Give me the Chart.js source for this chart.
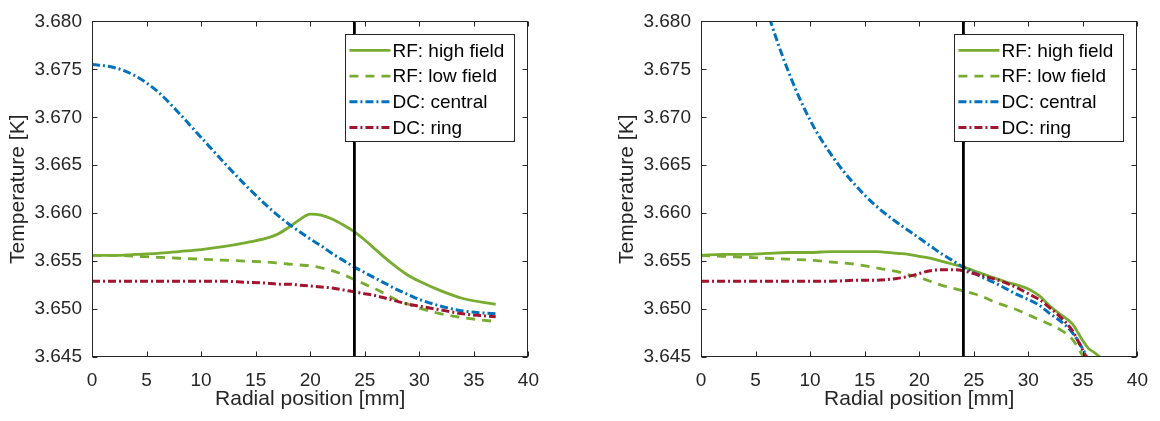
<!DOCTYPE html>
<html>
<head>
<meta charset="utf-8">
<script src="https://cdn.jsdelivr.net/npm/chart.js@4/dist/chart.umd.min.js"></script>
<style>
  html, body { margin: 0; padding: 0; background: #fff; }
  body { width: 1160px; height: 421px; position: relative; overflow: hidden; }
  canvas { position: absolute; top: 0; }
  #esquerda { left: 0; }
  #direita { left: 609px; }
</style>
</head>
<body>
<canvas id="esquerda" width="551" height="421"></canvas>
<canvas id="direita" width="551" height="421"></canvas>
<script>
// Eixos e legenda
const xTicks = [0, 5, 10, 15, 20, 25, 30, 35, 40];
const yTicks = [3.645, 3.650, 3.655, 3.660, 3.665, 3.670, 3.675, 3.680];
const nomes = ['RF: high field', 'RF: low field', 'DC: central', 'DC: ring'];
const posParede = 24.05;

// Painel esquerdo
const xEsq = [0, 2, 4, 6, 8, 10, 12, 14, 16, 17, 18, 19, 20, 21, 22, 23, 24, 25, 26, 27, 28, 29, 30, 32, 34, 37];
const highEsq = [3.6556, 3.6556, 3.6557, 3.6558, 3.6560, 3.6562, 3.6565, 3.6569, 3.6574, 3.6578, 3.6585, 3.6593, 3.6599, 3.6598, 3.6594, 3.6588, 3.6581, 3.6572, 3.6562, 3.6552, 3.6543, 3.6535, 3.6529, 3.6519, 3.6511, 3.6505];
const lowEsq = [3.6556, 3.6556, 3.6555, 3.6554, 3.6553, 3.6552, 3.6551, 3.6550, 3.6549, 3.6548, 3.6547, 3.6546, 3.6545, 3.6543, 3.6540, 3.6536, 3.6531, 3.6526, 3.6521, 3.6515, 3.6509, 3.6505, 3.6501, 3.6495, 3.6491, 3.6487];
const centralEsq = [3.6755, 3.6752, 3.6743, 3.6727, 3.6704, 3.6679, 3.6654, 3.6630, 3.6608, 3.6598, 3.6589, 3.6581, 3.6573, 3.6566, 3.6558, 3.6551, 3.6544, 3.6538, 3.6532, 3.6526, 3.6520, 3.6515, 3.6510, 3.6503, 3.6498, 3.6495];
const ringEsq = [3.6529, 3.6529, 3.6529, 3.6529, 3.6529, 3.6529, 3.6529, 3.6528, 3.6527, 3.6526, 3.6526, 3.6525, 3.6524, 3.6523, 3.6522, 3.6520, 3.6518, 3.6516, 3.6514, 3.6511, 3.6508, 3.6505, 3.6503, 3.6499, 3.6495, 3.6492];

// Painel direito
const xDir = [0, 2, 4, 6, 8, 10, 12, 14, 16, 18, 19, 20, 21, 22, 23, 24, 25, 26, 27, 28, 29, 30, 31, 32, 33, 34, 35, 35.5, 36, 37];
const highDir = [3.6556, 3.6557, 3.6557, 3.6558, 3.6559, 3.6559, 3.6560, 3.6560, 3.6560, 3.6558, 3.6557, 3.6555, 3.6553, 3.6550, 3.6547, 3.6544, 3.6540, 3.6536, 3.6532, 3.6528, 3.6525, 3.6521, 3.6514, 3.6503, 3.6494, 3.6485, 3.6467, 3.6459, 3.6455, 3.6446];
const lowDir = [3.6556, 3.6555, 3.6554, 3.6553, 3.6552, 3.6551, 3.6549, 3.6547, 3.6543, 3.6539, 3.6536, 3.6533, 3.6529, 3.6525, 3.6522, 3.6519, 3.6516, 3.6512, 3.6507, 3.6503, 3.6499, 3.6494, 3.6489, 3.6484, 3.6478, 3.6469, 3.6451, 3.6440, null, null];
const centralDir = [null, null, 3.6900, 3.6814, 3.6748, 3.6697, 3.6660, 3.6631, 3.6608, 3.6590, 3.6582, 3.6574, 3.6566, 3.6558, 3.6551, 3.6544, 3.6538, 3.6532, 3.6527, 3.6521, 3.6515, 3.6510, 3.6504, 3.6495, 3.6487, 3.6476, 3.6458, 3.6447, 3.6438, null];
const ringDir = [3.6529, 3.6529, 3.6529, 3.6529, 3.6529, 3.6529, 3.6529, 3.6530, 3.6530, 3.6532, 3.6534, 3.6537, 3.6540, 3.6541, 3.6541, 3.6540, 3.6537, 3.6534, 3.6531, 3.6527, 3.6522, 3.6516, 3.6510, 3.6501, 3.6491, 3.6478, 3.6457, 3.6446, 3.6438, null];

const FONTE = "'Liberation Sans', Arial, Helvetica, sans-serif";
const COR_TEXTO = '#262626';
Chart.defaults.font.family = FONTE;
Chart.defaults.color = COR_TEXTO;

const estilos = [
  { cor: '#77AC30', largura: 2.8, dash: [], ordem: 4 },
  { cor: '#77AC30', largura: 2.8, dash: [9, 7], ordem: 3 },
  { cor: '#0072BD', largura: 3, dash: [8, 3, 2, 3], ordem: 2 },
  { cor: '#A2142F', largura: 3, dash: [8, 3, 2, 3], ordem: 1 }
];

// Moldura com ticks para dentro (estilo MATLAB)
const moldura = {
  id: 'moldura',
  afterDraw(chart) {
    const { ctx, chartArea: a, scales: { x, y } } = chart;
    const L = Math.round(a.left) + 0.5, R = Math.round(a.right) - 0.5;
    const T = Math.round(a.top) + 0.5, B = Math.round(a.bottom) - 0.5;
    ctx.save();
    ctx.strokeStyle = COR_TEXTO;
    ctx.lineWidth = 1;
    ctx.setLineDash([]);
    ctx.strokeRect(L, T, R - L, B - T);
    ctx.beginPath();
    x.ticks.forEach(t => {
      const px = Math.round(x.getPixelForValue(t.value)) + 0.5;
      ctx.moveTo(px, B); ctx.lineTo(px, B - 5);
      ctx.moveTo(px, T); ctx.lineTo(px, T + 5);
    });
    y.ticks.forEach(t => {
      const py = Math.round(y.getPixelForValue(t.value)) + 0.5;
      ctx.moveTo(L, py); ctx.lineTo(L + 5, py);
      ctx.moveTo(R, py); ctx.lineTo(R - 5, py);
    });
    ctx.stroke();
    ctx.restore();
  }
};

// Legenda desenhada dentro da área do gráfico
const legenda = {
  id: 'legenda',
  afterDatasetsDraw(chart) {
    const { ctx, chartArea: a } = chart;
    const w = 169, h = 107;
    const left = a.right - 14 - w, top = a.top + 13;
    ctx.save();
    ctx.fillStyle = '#fff';
    ctx.fillRect(left, top, w, h);
    ctx.strokeStyle = COR_TEXTO;
    ctx.lineWidth = 1;
    ctx.strokeRect(Math.round(left) + 0.5, Math.round(top) + 0.5, w, h);
    ctx.font = '19px ' + FONTE;
    ctx.textBaseline = 'middle';
    ctx.textAlign = 'left';
    nomes.forEach((nome, i) => {
      const ds = chart.data.datasets.find(d => d.label === nome);
      const cy = top + 16 + i * 25.7;
      ctx.beginPath();
      ctx.strokeStyle = ds.borderColor;
      ctx.lineWidth = ds.borderWidth;
      ctx.setLineDash(ds.borderDash);
      ctx.moveTo(left + 4, cy);
      ctx.lineTo(left + 45, cy);
      ctx.stroke();
      ctx.setLineDash([]);
      ctx.fillStyle = '#000';
      ctx.fillText(nome, left + 47, cy + 1);
    });
    ctx.restore();
  }
};

function montarGrafico(id, xs, series) {
  const datasets = series.map((valores, i) => ({
    label: nomes[i],
    data: xs.map((x, k) => ({ x: x, y: valores[k] })),
    borderColor: estilos[i].cor,
    borderWidth: estilos[i].largura,
    borderDash: estilos[i].dash,
    order: estilos[i].ordem,
    pointRadius: 0,
    fill: false,
    cubicInterpolationMode: 'monotone',
    clip: 0
  }));
  datasets.push({
    label: 'parede',
    data: [{ x: posParede, y: yTicks[0] }, { x: posParede, y: yTicks[yTicks.length - 1] }],
    borderColor: '#000',
    borderWidth: 2.8,
    pointRadius: 0,
    order: 0,
    clip: 0
  });

  return new Chart(document.getElementById(id), {
    type: 'line',
    data: { datasets },
    options: {
      responsive: false,
      animation: false,
      devicePixelRatio: 1,
      events: [],
      layout: { padding: { top: 11, right: 16, bottom: 0, left: 0 } },
      plugins: { legend: { display: false }, tooltip: { enabled: false } },
      scales: {
        x: {
          type: 'linear',
          min: xTicks[0],
          max: xTicks[xTicks.length - 1],
          afterBuildTicks: s => { s.ticks = xTicks.map(v => ({ value: v })); },
          afterFit: s => { s.height = 64; },
          grid: { display: false, drawTicks: false },
          border: { display: false },
          ticks: { padding: 12, font: { size: 19 }, maxRotation: 0, autoSkip: false, color: COR_TEXTO },
          title: { display: true, text: 'Radial position [mm]', font: { size: 21 }, padding: { top: 0, bottom: 9 }, color: COR_TEXTO }
        },
        y: {
          type: 'linear',
          min: yTicks[0],
          max: yTicks[yTicks.length - 1],
          afterBuildTicks: s => { s.ticks = yTicks.map(v => ({ value: v })); },
          afterFit: s => { s.width = 92; },
          grid: { display: false, drawTicks: false },
          border: { display: false },
          ticks: { padding: 10, font: { size: 19 }, autoSkip: false, color: COR_TEXTO, callback: v => Number(v).toFixed(3) },
          title: { display: true, text: 'Temperature [K]', font: { size: 21 }, padding: { top: 6, bottom: 0 }, color: COR_TEXTO }
        }
      }
    },
    plugins: [legenda, moldura]
  });
}

montarGrafico('esquerda', xEsq, [highEsq, lowEsq, centralEsq, ringEsq]);
montarGrafico('direita', xDir, [highDir, lowDir, centralDir, ringDir]);
</script>
</body>
</html>
